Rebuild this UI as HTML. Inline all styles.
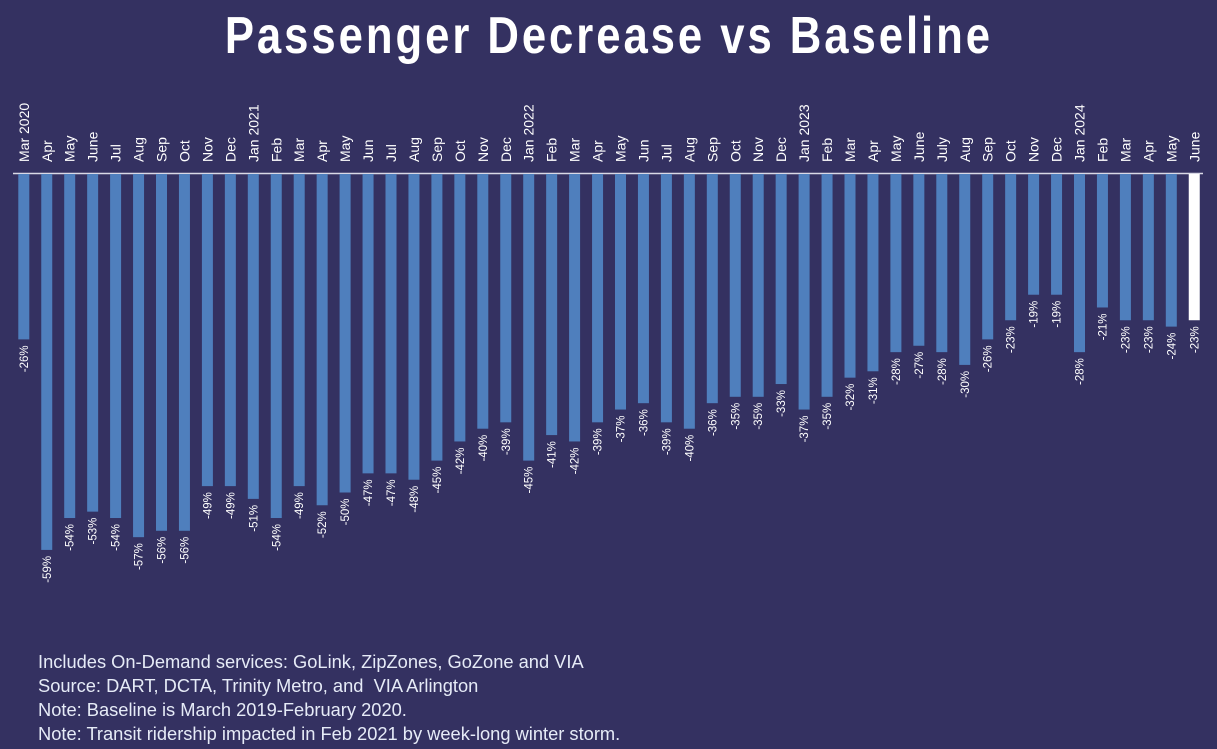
<!DOCTYPE html>
<html><head><meta charset="utf-8"><style>
html,body{margin:0;padding:0;background:#343161;}
body{width:1217px;height:749px;overflow:hidden;position:relative;font-family:"Liberation Sans",sans-serif;}
#title{position:absolute;left:0;width:1217px;top:6px;line-height:60px;text-align:center;color:#fff;font-weight:bold;font-size:52px;letter-spacing:3.5px;font-family:"Liberation Sans",sans-serif;transform:scaleX(0.84);transform-origin:611px 0;}
#notes{position:absolute;left:38px;top:650px;color:#e6ebf7;font-size:18.3px;line-height:24px;}
</style></head><body>
<div id="title">Passenger Decrease vs Baseline</div>
<svg id="chart" width="1217" height="640" style="position:absolute;left:0;top:0"></svg>
<div id="notes">
<div>Includes On-Demand services: GoLink, ZipZones, GoZone and VIA</div>
<div>Source: DART, DCTA, Trinity Metro, and&nbsp; VIA Arlington</div>
<div>Note: Baseline is March 2019-February 2020.</div>
<div>Note: Transit ridership impacted in Feb 2021 by week-long winter storm.</div>
</div>
<script>
const categories=["Mar 2020","Apr","May","June","Jul","Aug","Sep","Oct","Nov","Dec","Jan 2021","Feb","Mar","Apr","May","Jun","Jul","Aug","Sep","Oct","Nov","Dec","Jan 2022","Feb","Mar","Apr","May","Jun","Jul","Aug","Sep","Oct","Nov","Dec","Jan 2023","Feb","Mar","Apr","May","June","July","Aug","Sep","Oct","Nov","Dec","Jan 2024","Feb","Mar","Apr","May","June"];
const values=[-26,-59,-54,-53,-54,-57,-56,-56,-49,-49,-51,-54,-49,-52,-50,-47,-47,-48,-45,-42,-40,-39,-45,-41,-42,-39,-37,-36,-39,-40,-36,-35,-35,-33,-37,-35,-32,-31,-28,-27,-28,-30,-26,-23,-19,-19,-28,-21,-23,-23,-24,-23];
const valueLabels=values.map(v=>v+"%");
const NS="http://www.w3.org/2000/svg";
const svg=document.getElementById('chart');
const x0=18.3,step=22.95,bw=11,y0=173.5,ppu=6.38;
const xScale=i=>x0+i*step;
const yScale=v=>y0-v*ppu;
const axis=document.createElementNS(NS,'line');


axis.setAttribute('x1',13);axis.setAttribute('x2',1203);axis.setAttribute('y1',y0);axis.setAttribute('y2',y0);
axis.setAttribute('stroke','#d9d9e6');axis.setAttribute('stroke-width','1.5');
svg.appendChild(axis);
values.forEach((v,i)=>{
  const x=xScale(i),last=i===values.length-1;
  const r=document.createElementNS(NS,'rect');
  
  
  r.setAttribute('x',x);r.setAttribute('y',y0+0.5);r.setAttribute('width',bw);r.setAttribute('height',yScale(v)-y0-0.5);
  r.setAttribute('fill',last?'#ffffff':'#4f7fbd');
  svg.appendChild(r);
  const cx=x+bw/2+5;
  const t=document.createElementNS(NS,'text');
  
  
  t.setAttribute('transform',`translate(${cx},162) rotate(-90)`);
  t.setAttribute('fill','#fff');t.setAttribute('font-size','14');
  t.setAttribute('font-family','Liberation Sans, sans-serif');
  t.textContent=categories[i];
  svg.appendChild(t);
  const vl=document.createElementNS(NS,'text');
  
  
  vl.setAttribute('transform',`translate(${cx-1},${yScale(v)+6}) rotate(-90)`);
  vl.setAttribute('text-anchor','end');
  vl.setAttribute('fill','#fff');vl.setAttribute('font-size','11.5');
  vl.setAttribute('font-family','Liberation Sans, sans-serif');
  vl.textContent=valueLabels[i];
  svg.appendChild(vl);
});
</script>
</body></html>
